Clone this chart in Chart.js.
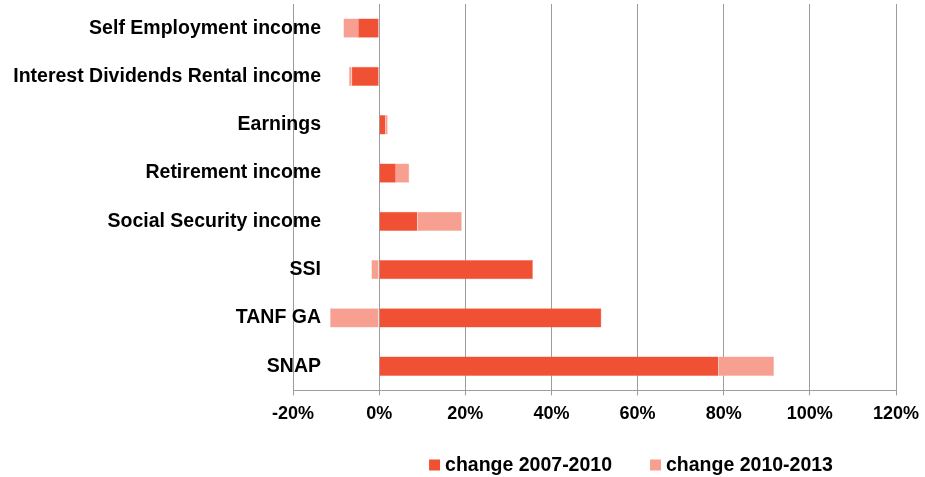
<!DOCTYPE html>
<html>
<head>
<meta charset="utf-8">
<script src="https://cdn.jsdelivr.net/npm/chart.js@4/dist/chart.umd.min.js"></script>
<style>
  html, body { margin: 0; padding: 0; background: #fff; }
  #wrap { width: 925px; height: 477px; position: relative; }
</style>
</head>
<body>
<div id="wrap"><canvas id="chart"></canvas></div>
<script>
"use strict";

// Categories, top to bottom
var categories = [
    'Self Employment income',
    'Interest Dividends Rental income',
    'Earnings',
    'Retirement income',
    'Social Security income',
    'SSI',
    'TANF GA',
    'SNAP'
];

// Percent change per period
var change2007to2010 = [-4.9, -6.4, 1.5, 3.9, 8.9, 35.7, 51.6, 78.8];
var change2010to2013 = [-3.4, -0.6, 0.5, 3.1, 10.3, -1.8, -11.4, 12.9];

// Axis ticks
var xMin = -20;
var xMax = 120;
var xStep = 20;

var fontFamily = '"Liberation Sans", Arial, sans-serif';
Chart.defaults.font.family = fontFamily;
Chart.defaults.font.weight = 'bold';
Chart.defaults.color = '#000';

var gridColor = '#9c9c9c';

// Category names sit partly over the plot, right edge a bit past the -20% line
var categoryLabels = {
    id: 'categoryLabels',
    afterDraw: function (chart) {
        var ctx = chart.ctx;
        var xs = chart.scales.x;
        var ys = chart.scales.y;
        var right = xs.getPixelForValue(xMin) + 28;
        ctx.save();
        ctx.font = 'bold 19.5px ' + fontFamily;
        ctx.fillStyle = '#000';
        ctx.textAlign = 'right';
        ctx.textBaseline = 'middle';
        chart.data.labels.forEach(function (label, i) {
            ctx.fillText(label, right, ys.getPixelForValue(i));
        });
        ctx.restore();
    }
};

// Legend below the axis, offset to the right like the original
var bottomLegend = {
    id: 'bottomLegend',
    afterDraw: function (chart) {
        var ctx = chart.ctx;
        var box = 11, gapText = 5, gapItem = 38;
        var centerX = 631, centerY = 465;
        ctx.save();
        ctx.font = 'bold 19.5px ' + fontFamily;
        ctx.textBaseline = 'middle';
        ctx.textAlign = 'left';
        var sets = chart.data.datasets;
        var total = 0;
        sets.forEach(function (ds, i) {
            total += box + gapText + ctx.measureText(ds.label).width;
            if (i < sets.length - 1) total += gapItem;
        });
        var x = centerX - total / 2;
        sets.forEach(function (ds) {
            ctx.fillStyle = ds.backgroundColor;
            ctx.fillRect(x, centerY - box / 2, box, box);
            x += box + gapText;
            ctx.fillStyle = '#000';
            ctx.fillText(ds.label, x, centerY + 1);
            x += ctx.measureText(ds.label).width + gapItem;
        });
        ctx.restore();
    }
};

var config = {
    type: 'bar',
    data: {
        labels: categories,
        datasets: [{
            label: 'change 2007-2010',
            data: change2007to2010,
            backgroundColor: '#f05134',
            borderColor: '#f4705a',
            borderWidth: 0.5,
            barPercentage: 0.8,
            categoryPercentage: 0.5
        }, {
            label: 'change 2010-2013',
            data: change2010to2013,
            backgroundColor: '#f7a091',
            borderColor: '#f9b5a9',
            borderWidth: 0.5,
            barPercentage: 0.8,
            categoryPercentage: 0.5
        }]
    },
    options: {
        indexAxis: 'y',
        responsive: true,
        maintainAspectRatio: false,
        animation: false,
        devicePixelRatio: 1,
        layout: {
            padding: { top: 4, right: 0, bottom: 44, left: 0 }
        },
        scales: {
            x: {
                stacked: true,
                min: xMin,
                max: xMax,
                afterFit: function (scale) {
                    scale.paddingRight = 29;
                },
                ticks: {
                    stepSize: xStep,
                    padding: 8,
                    font: { size: 18, weight: 'bold' },
                    callback: function (value) {
                        return value + '%';
                    }
                },
                grid: {
                    color: gridColor,
                    lineWidth: 1,
                    tickLength: 5,
                    drawTicks: true
                },
                border: { display: true, color: gridColor }
            },
            y: {
                stacked: true,
                afterFit: function (scale) {
                    scale.width = 293;
                },
                ticks: { display: false },
                grid: { display: false, drawTicks: false },
                border: { display: false }
            }
        },
        plugins: {
            legend: { display: false },
            tooltip: { enabled: false }
        }
    },
    plugins: [categoryLabels, bottomLegend]
};

var ctx = document.getElementById('chart').getContext('2d');
new Chart(ctx, config);
</script>
</body>
</html>
